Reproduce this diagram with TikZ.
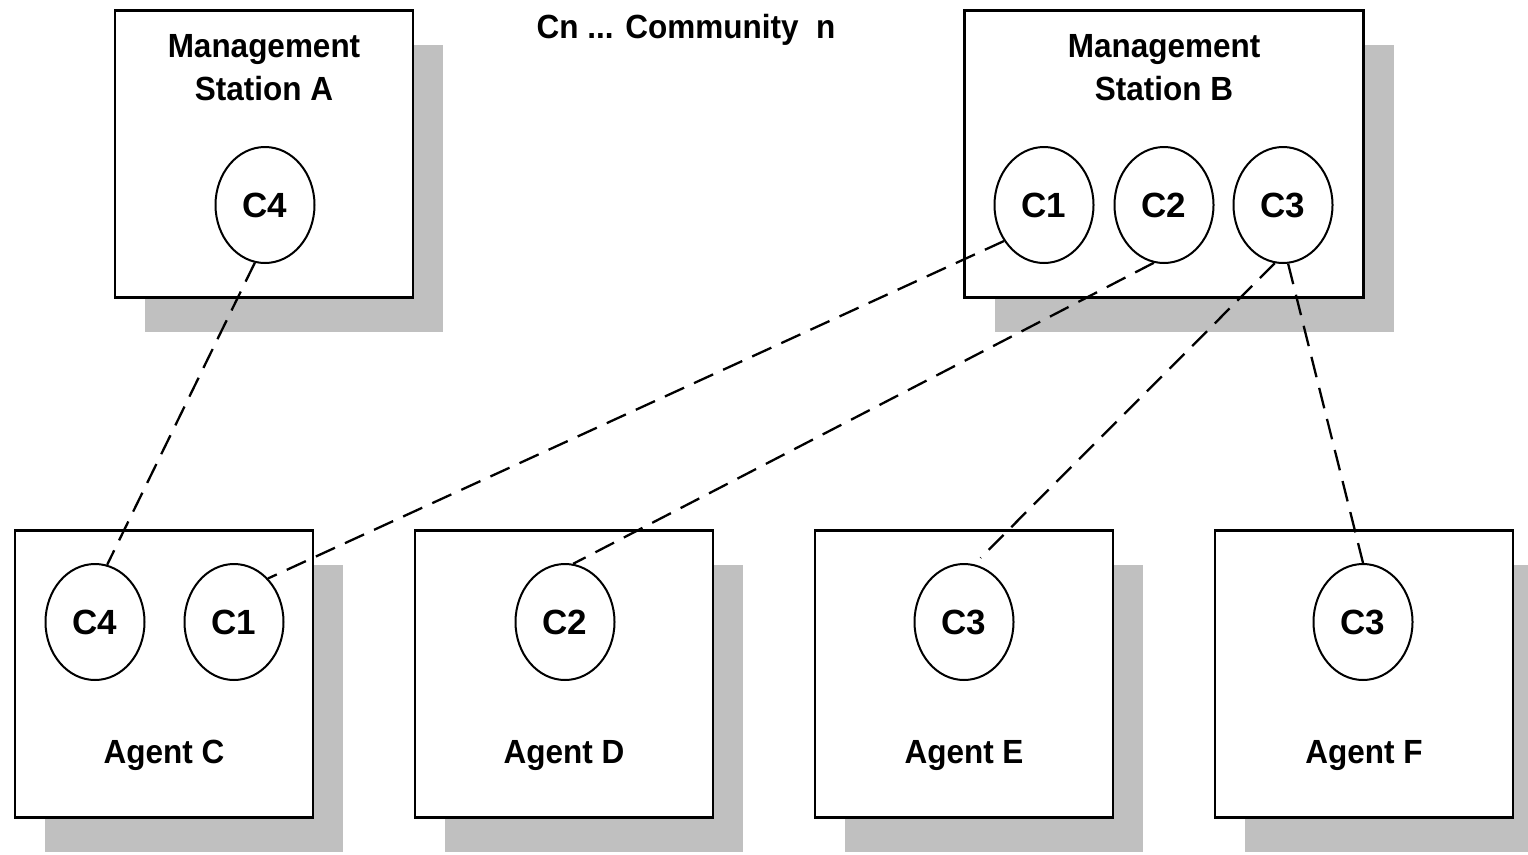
\documentclass[tikz,border=0pt]{standalone}
\usepackage{fontspec}
\setmainfont{Liberation Sans}[FakeStretch=0.94]
\newfontfamily\labelfont{Liberation Sans}
\usetikzlibrary{shapes.geometric, shadows, positioning}
\definecolor{shadowgray}{RGB}{192,192,192}

\begin{document}
\begin{tikzpicture}[
    x=1pt, y=-1pt,
    every node/.style={font=\fontsize{33.5}{43}\selectfont\bfseries},
    station/.style={rectangle, draw, line width=2.5pt, fill=white,
        minimum width=298pt, minimum height=287pt,
        drop shadow={shadow xshift=30pt, shadow yshift=-34pt, fill=shadowgray, opacity=1}},
    community/.style={ellipse, draw, line width=2pt, fill=white, inner sep=0pt,
        minimum width=99pt, minimum height=116pt, font=\labelfont\fontsize{35}{40}\selectfont\bfseries},
    link/.style={line width=2.3pt, dash pattern=on 21pt off 11pt}
]
\useasboundingbox (0,0) rectangle (1528,854);

% managers and agents
\node[station] (mgrA) at (264,154) {};
\node[station, minimum width=399pt] (mgrB) at (1164,154) {};
\node[station] (agtC) at (164,674) {};
\node[station] (agtD) at (564,674) {};
\node[station] (agtE) at (964,674) {};
\node[station] (agtF) at (1364,674) {};

\node[align=center] (lblA) at (264,68) {Management\\Station A};
\node[align=center] (lblB) at (1164,68) {Management\\Station B};
\node[anchor=base] (lblC) at (164,763) {Agent C};
\node[anchor=base] (lblD) at (564,763) {Agent D};
\node[anchor=base] (lblE) at (964,763) {Agent E};
\node[anchor=base] (lblF) at (1364,763) {Agent F};
\node[anchor=base] (legend) at (686,38) {Cn ... Community\ \ n};

% communities
\node[community] (c4A) at (265,205) {C4};
\node[community] (c1B) at (1044,205) {C1};
\node[community] (c2B) at (1164,205) {C2};
\node[community] (c3B) at (1283,205) {C3};
\node[community] (c4C) at (95,622) {C4};
\node[community] (c1C) at (234,622) {C1};
\node[community] (c2D) at (565,622) {C2};
\node[community] (c3E) at (964,622) {C3};
\node[community] (c3F) at (1363,622) {C3};

% shared communities
\draw[link] (c4A.260) -- (c4C.78);
\draw[link] (c1B.222) -- (c1C.52);
\draw[link] (c2B.260) -- (c2D.82);
\draw[link, shorten >=9pt] (c3B.262) -- (c3E.80);
\draw[link] (c3B.275) -- (c3F.north);
\end{tikzpicture}
\end{document}
